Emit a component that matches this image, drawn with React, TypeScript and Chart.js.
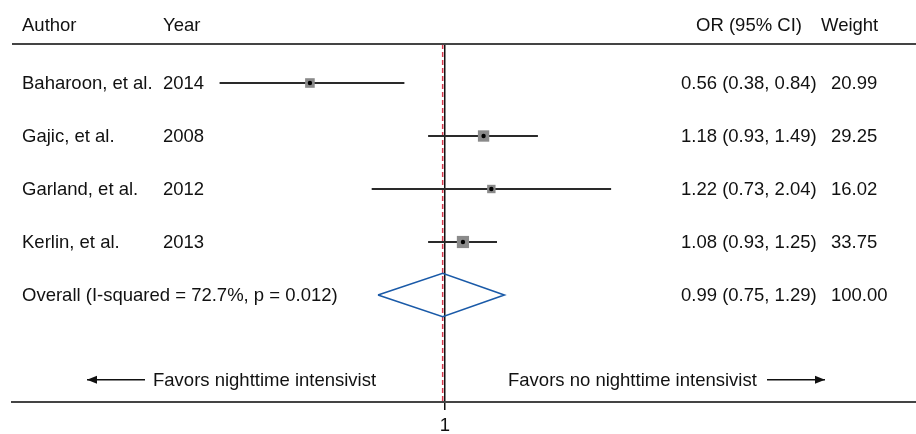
import React, { useEffect, useRef } from 'react';
import { Chart, registerables } from 'chart.js';

Chart.register(...registerables);

// ---- Data ----
const authors = ['Baharoon, et al.', 'Gajic, et al.', 'Garland, et al.', 'Kerlin, et al.'];
const years = ['2014', '2008', '2012', '2013'];
const orValues = [0.56, 1.18, 1.22, 1.08];
const lowerCI = [0.38, 0.93, 0.73, 0.93];
const upperCI = [0.84, 1.49, 2.04, 1.25];
const weights = [20.99, 29.25, 16.02, 33.75];

const overallLabel = 'Overall (I-squared = 72.7%, p = 0.012)';
const overallOR = 0.99;
const overallLower = 0.75;
const overallUpper = 1.29;
const overallWeight = 100.0;

const headerLabels = ['Author', 'Year', 'OR (95% CI)', 'Weight'];
const favorLeft = 'Favors nighttime intensivist';
const favorRight = 'Favors no nighttime intensivist';
const xTicks = [1];

// ---- Layout helpers (row indices on the y scale) ----
const rowIndex = authors.map((_, i) => i + 1);
const overallRow = authors.length + 1;
const favorRow = 6.6;
const yMin = 0.264;
const yMax = 7.019;
const xMin = 0.1559;
const xMax = 7.55;

const FONT = '18.5px "Liberation Sans", Arial, Helvetica, sans-serif';

const fmt = (v: number) => v.toFixed(2);

const forestText = {
  id: 'forestText',
  afterDraw(chart: any) {
    const { ctx, chartArea, scales } = chart;
    const ys = scales.y;
    ctx.save();
    // header rule
    ctx.strokeStyle = '#444';
    ctx.lineWidth = 2;
    ctx.beginPath();
    ctx.moveTo(chartArea.left, chartArea.top);
    ctx.lineTo(chartArea.right, chartArea.top);
    ctx.stroke();

    ctx.font = FONT;
    ctx.fillStyle = '#111';
    ctx.textBaseline = 'alphabetic';
    const hb = 31;
    ctx.textAlign = 'left';
    ctx.fillText(headerLabels[0], 22, hb);
    ctx.fillText(headerLabels[1], 163, hb);
    ctx.textAlign = 'center';
    ctx.fillText(headerLabels[2], 749, hb);
    ctx.textAlign = 'left';
    ctx.fillText(headerLabels[3], 821, hb);

    authors.forEach((a, i) => {
      const b = ys.getPixelForValue(rowIndex[i]) + 6;
      ctx.fillText(a, 22, b);
      ctx.fillText(years[i], 163, b);
      ctx.fillText(`${fmt(orValues[i])} (${fmt(lowerCI[i])}, ${fmt(upperCI[i])})`, 681, b);
      ctx.fillText(fmt(weights[i]), 831, b);
    });
    const ob = ys.getPixelForValue(overallRow) + 6;
    ctx.fillText(overallLabel, 22, ob);
    ctx.fillText(`${fmt(overallOR)} (${fmt(overallLower)}, ${fmt(overallUpper)})`, 681, ob);
    ctx.fillText(fmt(overallWeight), 831, ob);

    // favors labels with arrows
    const fy = ys.getPixelForValue(favorRow);
    ctx.fillText(favorLeft, 153, fy + 6);
    ctx.fillText(favorRight, 508, fy + 6);
    ctx.strokeStyle = '#111';
    ctx.lineWidth = 1.5;
    const arrow = (x1: number, x2: number, head: number) => {
      ctx.beginPath();
      ctx.moveTo(x1, fy);
      ctx.lineTo(x2, fy);
      ctx.stroke();
      const dir = head === x1 ? 1 : -1;
      ctx.beginPath();
      ctx.moveTo(head, fy);
      ctx.lineTo(head + dir * 10, fy - 4);
      ctx.lineTo(head + dir * 10, fy + 4);
      ctx.closePath();
      ctx.fill();
    };
    arrow(87, 145, 87);
    arrow(767, 825, 825);
    ctx.restore();
  },
};

export default function App() {
  const ref = useRef<HTMLCanvasElement>(null);
  useEffect(() => {
    if (!ref.current) return;
    const ciSets = authors.map((a, i) => ({
      label: a,
      data: [
        { x: lowerCI[i], y: rowIndex[i] },
        { x: upperCI[i], y: rowIndex[i] },
      ],
      showLine: true,
      borderColor: '#2a2a2a',
      borderWidth: 1.8,
      pointRadius: 0,
      order: 5,
    }));
    const boxSet = {
      label: 'boxes',
      data: authors.map((_, i) => ({ x: orValues[i], y: rowIndex[i] })),
      showLine: false,
      pointStyle: 'rect',
      pointRadius: weights.map((w) => (2.1 * Math.sqrt(w)) / Math.SQRT2),
      backgroundColor: '#8a8a8a',
      borderColor: '#8a8a8a',
      borderWidth: 0,
      order: 3,
    };
    const dotSet = {
      label: 'dots',
      data: authors.map((_, i) => ({ x: orValues[i], y: rowIndex[i] })),
      showLine: false,
      pointStyle: 'circle',
      pointRadius: 2.2,
      backgroundColor: '#000',
      borderColor: '#000',
      borderWidth: 0,
      order: 1,
    };
    const diamondSet = {
      label: 'overall',
      data: [
        { x: overallLower, y: overallRow },
        { x: overallOR, y: overallRow - 0.41 },
        { x: overallUpper, y: overallRow },
        { x: overallOR, y: overallRow + 0.41 },
        { x: overallLower, y: overallRow },
      ],
      showLine: true,
      borderColor: '#1a5aa8',
      borderWidth: 1.6,
      pointRadius: 0,
      order: 1,
    };
    const refSet = {
      label: 'overall line',
      data: [
        { x: overallOR, y: yMin },
        { x: overallOR, y: yMax },
      ],
      showLine: true,
      borderColor: '#d63a4e',
      borderWidth: 1.5,
      borderDash: [5, 3],
      pointRadius: 0,
      order: 6,
    };

    const chart = new Chart(ref.current, {
      type: 'scatter',
      data: { datasets: [refSet, ...ciSets, boxSet, dotSet, diamondSet] as any },
      options: {
        animation: false,
        responsive: false,
        maintainAspectRatio: false,
        devicePixelRatio: 1,
        layout: { autoPadding: false, padding: { left: 12, right: 0, top: 44, bottom: 0 } },
        plugins: { legend: { display: false }, tooltip: { enabled: false } },
        scales: {
          x: {
            type: 'logarithmic',
            min: xMin,
            max: xMax,
            afterBuildTicks: (s: any) => {
              s.ticks = xTicks.map((v) => ({ value: v }));
            },
            afterFit: (s: any) => {
              s.height = 32;
            },
            ticks: {
              autoSkip: false,
              maxRotation: 0,
              padding: 5,
              color: '#111',
              font: { family: '"Liberation Sans", Arial, sans-serif', size: 18.5 },
              callback: (v: any) => String(v),
            },
            grid: {
              color: '#111',
              lineWidth: 1.5,
              drawOnChartArea: true,
              drawTicks: true,
              tickLength: 8,
            },
            border: { display: true, color: '#444', width: 2 },
          },
          y: {
            type: 'linear',
            min: yMin,
            max: yMax,
            reverse: true,
            display: false,
          },
        },
      },
      plugins: [forestText],
    });
    return () => chart.destroy();
  }, []);

  return (
    <div style={{ position: 'fixed', left: 0, top: 0, width: 916, height: 434, background: '#fff' }}>
      <canvas ref={ref} width={916} height={434} style={{ width: 916, height: 434, display: 'block' }} />
    </div>
  );
}
